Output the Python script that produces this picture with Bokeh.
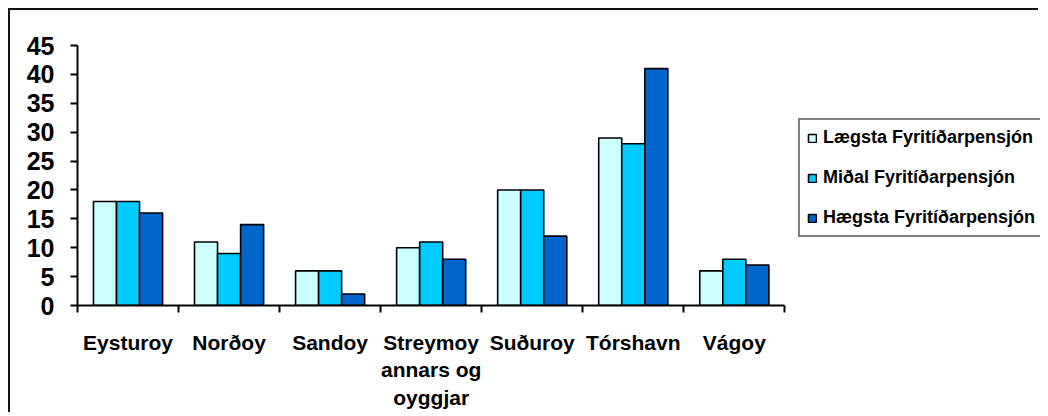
from bokeh.plotting import figure
from bokeh.models import (Range1d, LinearAxis, FixedTicker,
                          ColumnDataSource, Legend, LegendItem)
from bokeh.transform import dodge
from bokeh.embed import file_html
from bokeh.resources import INLINE

categories = ["Eysturoy", "Norðoy", "Sandoy", "Streymoy annars og oyggjar",
              "Suðuroy", "Tórshavn", "Vágoy"]
category_labels = ["Eysturoy", "Norðoy", "Sandoy", "Streymoy\nannars og\noyggjar",
                   "Suðuroy", "Tórshavn", "Vágoy"]
series_names = ["Lægsta Fyritíðarpensjón", "Miðal Fyritíðarpensjón", "Hægsta Fyritíðarpensjón"]
laegsta = [18, 11, 6, 10, 20, 29, 6]
midal = [18, 9, 6, 11, 20, 28, 8]
haegsta = [16, 14, 2, 8, 12, 41, 7]
y_ticks = [0, 5, 10, 15, 20, 25, 30, 35, 40, 45]
colors = ["#CCFFFF", "#00CCFF", "#0066CC"]

n = len(categories)
centers = [i + 0.5 for i in range(n)]
src = ColumnDataSource(dict(pos=centers, cat=categories, s0=laegsta, s1=midal, s2=haegsta))

FONT = "Liberation Sans"

# x range extends past the categories so the legend has room inside the frame
p = figure(x_range=Range1d(0, 9.53), y_range=Range1d(0, 45),
           width=1030, height=404, output_backend="svg", toolbar_location=None,
           x_axis_location=None, y_axis_location=None,
           min_border_left=67, min_border_top=35, min_border_right=0, min_border_bottom=109)
p.styles = {"border-left": "2px solid #111", "border-top": "2px solid #111",
            "margin-left": "8px", "margin-top": "8px"}
p.outline_line_color = None
p.xgrid.visible = False
p.ygrid.visible = False
p.background_fill_color = "white"
p.border_fill_color = "white"

bw = 0.228
renderers = []
for i, key in enumerate(["s0", "s1", "s2"]):
    r = p.vbar(x=dodge("pos", (i - 1) * bw), top=key, width=bw, bottom=0,
               source=src, fill_color=colors[i], line_color="black", line_width=1.6)
    renderers.append(r)

# y axis
yax = LinearAxis(ticker=FixedTicker(ticks=y_ticks))
yax.axis_line_width = 2
yax.major_tick_line_width = 2
yax.major_tick_out = 7
yax.major_tick_in = 0
yax.minor_tick_line_color = None
yax.major_label_standoff = 16
yax.major_label_text_font = FONT
yax.major_label_text_font_style = "bold"
yax.major_label_text_font_size = "25px"
yax.major_label_text_color = "black"
p.add_layout(yax, "left")

# x tick axis at category boundaries
tax = LinearAxis(ticker=FixedTicker(ticks=list(range(n + 1))), bounds=(0, n))
tax.axis_line_width = 2
tax.major_tick_line_width = 2
tax.major_tick_out = 7
tax.major_tick_in = 0
tax.minor_tick_line_color = None
tax.major_label_text_color = None
tax.major_label_text_font_size = "1px"
tax.major_label_standoff = 0
p.add_layout(tax, "below")

# category labels
cax = LinearAxis(ticker=FixedTicker(ticks=centers), bounds=(0, n))
cax.axis_line_color = None
cax.major_tick_line_color = None
cax.minor_tick_line_color = None
cax.major_label_standoff = 12
cax.major_label_text_font = FONT
cax.major_label_text_font_style = "bold"
cax.major_label_text_font_size = "21px"
cax.major_label_text_color = "black"
cax.major_label_text_line_height = 1.2
cax.major_label_overrides = {c: lab for c, lab in zip(centers, category_labels)}
p.add_layout(cax, "below")

legend = Legend(items=[LegendItem(label=nm, renderers=[r]) for nm, r in zip(series_names, renderers)],
                location=(721, 68), margin=0, padding=7, spacing=19,
                label_height=20, glyph_height=10, glyph_width=10, label_standoff=6,
                label_text_font=FONT, label_text_font_style="bold", label_text_font_size="18px",
                label_text_color="black",
                border_line_color="black", border_line_width=2, background_fill_alpha=1)
p.add_layout(legend, "center")

open("out.html", "w").write(file_html(p, INLINE))
